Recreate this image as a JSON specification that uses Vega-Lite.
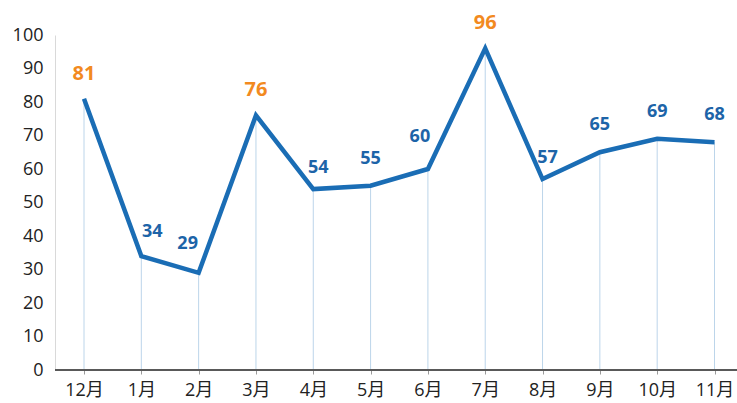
{
  "$schema": "https://vega.github.io/schema/vega-lite/v6.json",
  "width": 682,
  "height": 335,
  "autosize": {"type": "none"},
  "padding": {"left": 55, "top": 35, "right": 0, "bottom": 33},
  "background": "white",
  "config": {
    "view": {"stroke": null},
    "font": "Open Sans, Noto Sans CJK SC"
  },
  "data": {
    "values": [
      {"month": "12月", "value": 81, "peak": "yes"},
      {"month": "1月", "value": 34, "peak": "no"},
      {"month": "2月", "value": 29, "peak": "no"},
      {"month": "3月", "value": 76, "peak": "yes"},
      {"month": "4月", "value": 54, "peak": "no"},
      {"month": "5月", "value": 55, "peak": "no"},
      {"month": "6月", "value": 60, "peak": "no"},
      {"month": "7月", "value": 96, "peak": "yes"},
      {"month": "8月", "value": 57, "peak": "no"},
      {"month": "9月", "value": 65, "peak": "no"},
      {"month": "10月", "value": 69, "peak": "no"},
      {"month": "11月", "value": 68, "peak": "no"}
    ]
  },
  "encoding": {
    "x": {
      "field": "month",
      "type": "ordinal",
      "sort": null,
      "scale": {"type": "point", "range": [29, 659.5], "padding": 0},
      "axis": {
        "title": null,
        "domain": false,
        "ticks": true,
        "tickColor": "#9a9a9a",
        "tickSize": 4,
        "labelAngle": 0,
        "labelFont": "Open Sans, Noto Sans CJK SC",
        "labelFontSize": 18,
        "labelColor": "#222222",
        "labelPadding": 7,
        "grid": false
      }
    },
    "y": {
      "field": "value",
      "type": "quantitative",
      "scale": {"domain": [0, 100], "nice": false},
      "axis": {
        "title": null,
        "values": [0, 10, 20, 30, 40, 50, 60, 70, 80, 90, 100],
        "grid": false,
        "ticks": false,
        "domain": true,
        "domainColor": "#d9d9d9",
        "labelFont": "Open Sans, Noto Sans CJK SC",
        "labelFontSize": 18,
        "labelColor": "#222222",
        "labelPadding": 12
      }
    }
  },
  "layer": [
    {
      "mark": {"type": "rule", "color": "#bcd5ea", "strokeWidth": 1},
      "encoding": {"y2": {"datum": 0}}
    },
    {
      "mark": {"type": "rule", "color": "#595959", "strokeWidth": 2},
      "encoding": {"x": {"value": 0}, "x2": {"value": 682}, "y": {"datum": 0}}
    },
    {
      "mark": {"type": "line", "color": "#1a6db5", "strokeWidth": 4.5, "strokeJoin": "miter"}
    },
    {
      "transform": [{"filter": "datum.peak == 'yes'"}],
      "mark": {"type": "text", "font": "Open Sans", "color": "#f28a1f", "fontSize": 20, "fontWeight": "bold", "dy": -25},
      "encoding": {"text": {"field": "value"}}
    },
    {
      "transform": [{"filter": "datum.peak == 'no' && datum.month != '1月' && datum.month != '2月' && datum.month != '6月' && datum.month != '8月' && datum.month != '4月'"}],
      "mark": {"type": "text", "font": "Open Sans", "color": "#1d64a8", "fontSize": 18, "fontWeight": "bold", "dy": -27},
      "encoding": {"text": {"field": "value"}}
    },
    {
      "transform": [{"filter": "datum.month == '1月'"}],
      "mark": {"type": "text", "font": "Open Sans", "color": "#1d64a8", "fontSize": 18, "fontWeight": "bold", "dy": -24, "dx": 11},
      "encoding": {"text": {"field": "value"}}
    },
    {
      "transform": [{"filter": "datum.month == '2月'"}],
      "mark": {"type": "text", "font": "Open Sans", "color": "#1d64a8", "fontSize": 18, "fontWeight": "bold", "dy": -29, "dx": -11},
      "encoding": {"text": {"field": "value"}}
    },
    {
      "transform": [{"filter": "datum.month == '6月'"}],
      "mark": {"type": "text", "font": "Open Sans", "color": "#1d64a8", "fontSize": 18, "fontWeight": "bold", "dy": -32, "dx": -8},
      "encoding": {"text": {"field": "value"}}
    },
    {
      "transform": [{"filter": "datum.month == '8月' || datum.month == '4月'"}],
      "mark": {"type": "text", "font": "Open Sans", "color": "#1d64a8", "fontSize": 18, "fontWeight": "bold", "dy": -21, "dx": 5},
      "encoding": {"text": {"field": "value"}}
    }
  ]
}
